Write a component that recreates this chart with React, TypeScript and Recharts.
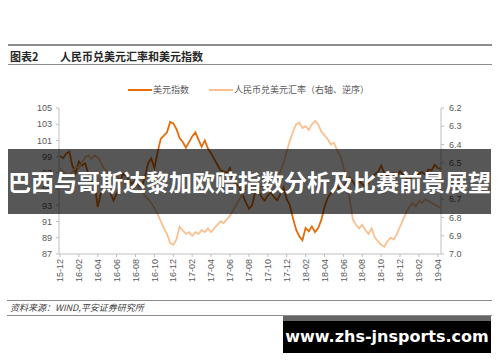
import { LineChart, Line, XAxis, YAxis, Legend } from 'recharts';

// x-axis tick labels, one every two months
const tickLabels = [
  '15-12', '16-02', '16-04', '16-06', '16-08', '16-10', '16-12',
  '17-02', '17-04', '17-06', '17-08', '17-10', '17-12',
  '18-02', '18-04', '18-06', '18-08', '18-10', '18-12',
  '19-02', '19-04',
];

// 美元指数, roughly three readings per month
const usdIndex = [
  99.1, 98.8, 99.4, 99.6, 97.8, 97.0, 98.4, 97.9, 98.2, 96.9,
  95.9, 95.6, 92.8, 94.5, 95.2, 95.4, 94.6, 93.6, 94.4, 95.6,
  96.9, 96.6, 96.0, 95.6, 96.2, 95.5, 95.2, 96.5, 98.2, 98.8,
  97.6, 99.5, 101.2, 101.6, 102.0, 103.3, 103.1, 102.4, 101.3, 100.8,
  100.1, 100.8, 101.5, 102.0, 101.1, 100.2, 101.0, 100.0, 99.4, 98.7,
  98.0, 97.3, 97.2, 97.0, 97.6, 96.0, 95.6, 95.2, 94.3, 93.4,
  92.6, 93.0, 94.6, 95.0, 94.0, 93.6, 94.2, 94.6, 94.0, 93.6,
  94.4, 95.2, 93.8, 93.0, 91.4, 90.0, 89.2, 88.7, 90.2, 89.8,
  90.4, 89.7, 90.2, 91.2, 92.8, 93.9, 94.5, 94.7, 95.4, 94.8,
  95.3, 95.8, 96.4, 96.0, 95.3, 96.0, 95.6, 95.2, 95.8, 96.3,
  96.8, 97.1, 97.9, 97.0, 96.6, 96.9, 97.0, 96.6, 97.2, 96.8,
  96.4, 96.1, 96.7, 96.5, 96.9, 97.1, 96.8, 97.4, 97.3, 98.0,
  97.6, 97.5,
];

// 人民币兑美元汇率 (right axis, reversed)
const rmbRate = [
  6.53, 6.55, 6.56, 6.57, 6.55, 6.52, 6.53, 6.50, 6.47, 6.46,
  6.48, 6.46, 6.47, 6.50, 6.53, 6.55, 6.56, 6.58, 6.57, 6.59,
  6.60, 6.62, 6.61, 6.63, 6.62, 6.64, 6.66, 6.68, 6.70, 6.72,
  6.75, 6.78, 6.82, 6.86, 6.89, 6.94, 6.95, 6.92, 6.85, 6.87,
  6.89, 6.88, 6.90, 6.88, 6.89, 6.87, 6.88, 6.86, 6.88, 6.86,
  6.84, 6.82, 6.83, 6.81, 6.79, 6.76, 6.73, 6.70, 6.67, 6.64,
  6.62, 6.60, 6.62, 6.64, 6.63, 6.61, 6.62, 6.63, 6.60, 6.57,
  6.55, 6.50, 6.44, 6.38, 6.33, 6.29, 6.28, 6.31, 6.30, 6.32,
  6.29, 6.27, 6.29, 6.33, 6.35, 6.37, 6.40, 6.39, 6.43, 6.46,
  6.52, 6.60, 6.70, 6.81, 6.84, 6.86, 6.84, 6.87, 6.89, 6.86,
  6.91, 6.93, 6.95, 6.96, 6.93, 6.91, 6.92, 6.89, 6.85, 6.81,
  6.77, 6.74, 6.72, 6.74, 6.71, 6.72, 6.70, 6.71, 6.72, 6.73,
  6.74, 6.75,
];

const leftTicks = [87, 89, 91, 93, 95, 97, 99, 101, 103, 105];
const rightTicks = [6.2, 6.3, 6.4, 6.5, 6.6, 6.7, 6.8, 6.9, 7.0];

const USD_COLOR = '#E46C0A';
const RMB_COLOR = '#FAC090';
const AXIS_COLOR = '#BFBFBF';
const TEXT_COLOR = '#595959';
const FONT = "'Liberation Sans', 'Noto Sans CJK SC', sans-serif";
const CJK = "'Noto Sans CJK SC', sans-serif";

const data = usdIndex.map((usd, i) => ({ t: i / 3, usd, rmb: rmbRate[i] }));

const XTick = ({ x, y, payload }: any) => (
  <text
    x={x}
    y={y}
    transform={`rotate(-90, ${x}, ${y})`}
    textAnchor="end"
    dy="0.35em"
    fontSize={9}
    fontFamily={FONT}
    fill={TEXT_COLOR}
  >
    {tickLabels[Math.round(payload.value / 2)]}
  </text>
);

const renderLegend = () => (
  <div style={{ position: 'relative', height: 12, fontFamily: CJK, fontSize: 9, color: '#595959' }}>
    <span style={{ position: 'absolute', left: 128, top: 5, width: 24, height: 2, background: USD_COLOR }} />
    <span style={{ position: 'absolute', left: 153, top: 0, lineHeight: '12px' }}>美元指数</span>
    <span style={{ position: 'absolute', left: 209, top: 5, width: 24, height: 2, background: RMB_COLOR }} />
    <span style={{ position: 'absolute', left: 234, top: 0, lineHeight: '12px', whiteSpace: 'nowrap' }}>
      人民币兑美元汇率（右轴、逆序）
    </span>
  </div>
);

export default function App() {
  return (
    <div style={{ position: 'relative', width: 500, height: 362, background: '#fff', overflow: 'hidden' }}>
      <style>{'body{margin:0}'}</style>

      {/* header */}
      <div style={{ position: 'absolute', left: 8, top: 44, width: 484, height: 2, background: '#8C8C8C' }} />
      <div style={{ position: 'absolute', left: 10, top: 49, fontFamily: CJK, fontSize: 11, fontWeight: 700, color: '#262626', lineHeight: '14px' }}>
        图表2
      </div>
      <div style={{ position: 'absolute', left: 60, top: 49, fontFamily: CJK, fontSize: 11, fontWeight: 700, color: '#262626', lineHeight: '14px' }}>
        人民币兑美元汇率和美元指数
      </div>
      <div style={{ position: 'absolute', left: 8, top: 64, width: 484, height: 1, background: '#8C8C8C' }} />

      <div style={{ position: 'absolute', left: 0, top: 0 }}>
        <LineChart width={500} height={300} data={data} margin={{ top: 96, right: 19, bottom: 16, left: 19 }}>
          <XAxis
            dataKey="t"
            type="number"
            domain={[-0.1, 40.32]}
            ticks={tickLabels.map((_, i) => i * 2)}
            interval={0}
            height={30}
            tickSize={3}
            tickMargin={2}
            stroke={AXIS_COLOR}
            tick={<XTick />}
          />
          <YAxis
            yAxisId="left"
            domain={[87, 105]}
            ticks={leftTicks}
            width={40}
            tickSize={3}
            tickMargin={4}
            stroke={AXIS_COLOR}
            tick={{ fontSize: 9, fill: TEXT_COLOR, fontFamily: FONT }}
          />
          <YAxis
            yAxisId="right"
            orientation="right"
            reversed
            domain={[6.2, 7.0]}
            ticks={rightTicks}
            width={40}
            tickSize={3}
            tickMargin={5}
            stroke={AXIS_COLOR}
            tickFormatter={(v: number) => v.toFixed(1)}
            tick={{ fontSize: 9, fill: TEXT_COLOR, fontFamily: FONT, textAnchor: 'start' }}
          />
          <Legend verticalAlign="top" content={renderLegend} wrapperStyle={{ left: 0, top: 84, width: 500 }} />
          <Line
            yAxisId="left"
            dataKey="usd"
            name="美元指数"
            stroke={USD_COLOR}
            strokeWidth={1.8}
            dot={false}
            isAnimationActive={false}
          />
          <Line
            yAxisId="right"
            dataKey="rmb"
            name="人民币兑美元汇率（右轴、逆序）"
            stroke={RMB_COLOR}
            strokeWidth={1.8}
            dot={false}
            isAnimationActive={false}
          />
        </LineChart>
      </div>

      {/* footer */}
      <div style={{ position: 'absolute', left: 7, top: 300, width: 485, height: 1, background: '#8C8C8C' }} />
      <div style={{ position: 'absolute', left: 10, top: 302, fontFamily: CJK, fontSize: 9, fontStyle: 'italic', color: '#404040', lineHeight: '12px' }}>
        资料来源：WIND,平安证券研究所
      </div>
      <div style={{ position: 'absolute', left: 7, top: 315, width: 485, height: 1, background: '#8C8C8C' }} />

      {/* overlay banner */}
      <div
        style={{
          position: 'absolute', left: 8, top: 149, width: 483, height: 65,
          background: 'rgba(0,0,0,0.66)', color: '#fff', fontFamily: CJK, fontWeight: 700,
          fontSize: 23, lineHeight: '65px', textAlign: 'center', whiteSpace: 'nowrap',
        }}
      >
        巴西与哥斯达黎加欧赔指数分析及比赛前景展望
      </div>

      {/* watermark */}
      <div style={{ position: 'absolute', left: 283, top: 316, width: 208, height: 5, background: '#666' }} />
      <div
        style={{
          position: 'absolute', left: 283, top: 321, width: 208, height: 32, background: '#000',
          color: '#fff', fontFamily: "'DejaVu Sans', sans-serif", fontWeight: 700, fontSize: 16,
          lineHeight: '32px', textAlign: 'center', whiteSpace: 'nowrap',
        }}
      >
        www.zhs-jnsports.com
      </div>
    </div>
  );
}
